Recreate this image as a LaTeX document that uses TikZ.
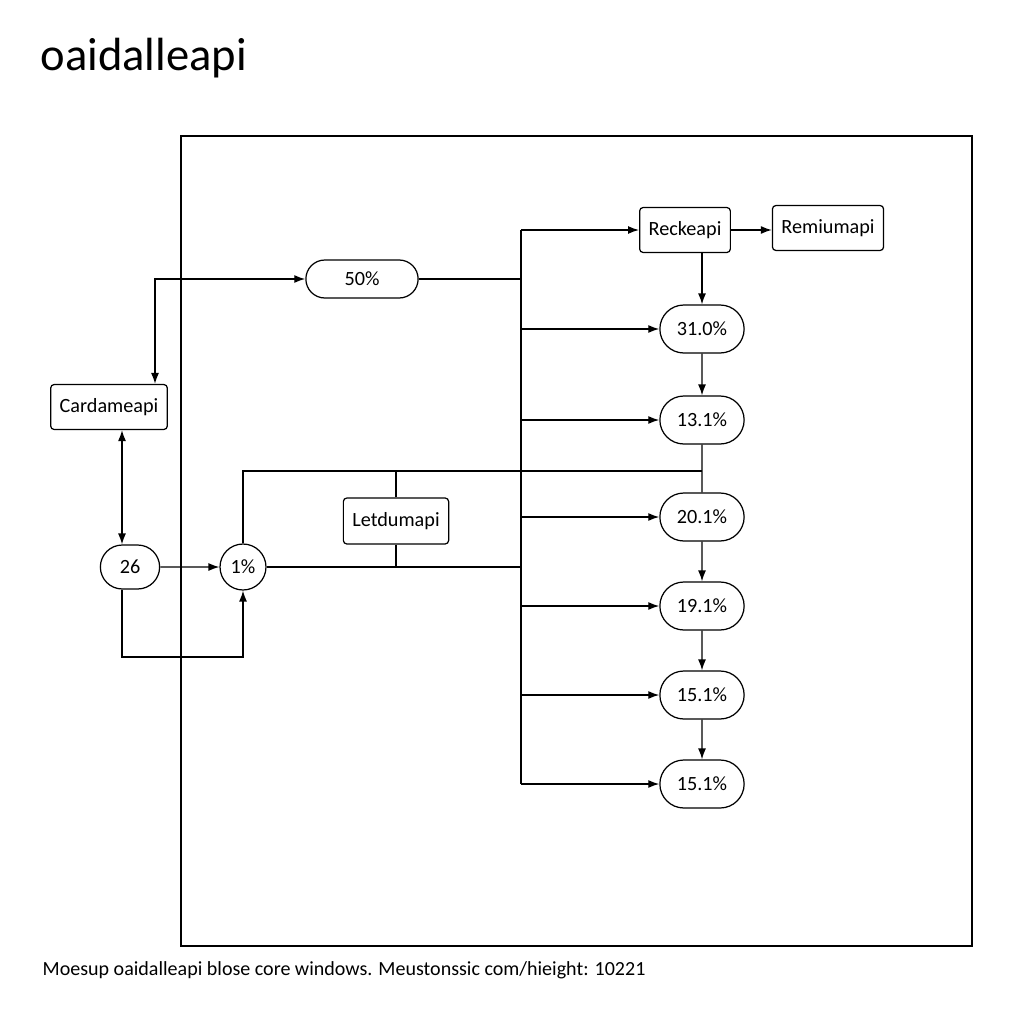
\documentclass[tikz,border=0pt]{standalone}
\usepackage{fontspec}
\setmainfont{Carlito}
\usetikzlibrary{arrows.meta,shapes.misc}

\tikzset{
  box/.style={rectangle, rounded corners=2pt, draw, line width=0.7pt, minimum height=0.9cm, inner xsep=0.18cm, font=\fontsize{11.5}{13}\selectfont},
  pill/.style={rounded rectangle, draw, line width=0.7pt, minimum width=1.92cm, minimum height=0.96cm, font=\fontsize{11.5}{13}\selectfont},
}

\begin{document}
\begin{tikzpicture}[x=0.02cm, y=-0.02cm, line width=0.75pt, >={Latex[length=2.2mm,width=1.6mm]}]
\useasboundingbox (0,0) rectangle (1024,1024);

\node[anchor=base west, inner sep=0pt, font=\fontsize{26.5}{30}\selectfont] (t1) at (40,71) {oaidalleapi};
\node[anchor=base west, inner sep=0pt, font=\fontsize{11.4}{13}\selectfont] (t2) at (42,975) {Moesup oaidalleapi blose core windows. Meustonssic com/hieight: 10221};

\draw[line width=0.65pt] (181,136) rectangle (972,946);

\node[box] (v1) at (109,407) {Cardameapi};
\node[pill, minimum width=1.42cm, minimum height=0.88cm] (v2) at (130,567) {26};
\node[circle, draw, line width=0.7pt, minimum size=0.92cm, inner sep=0pt, font=\fontsize{11.5}{13}\selectfont] (v3) at (243,567) {1\%};
\node[box, minimum height=0.92cm] (v4) at (396,521) {Letdumapi};
\node[pill, minimum width=2.48cm, minimum height=0.76cm] (v5) at (362,279) {50\%};
\node[box] (v6) at (685,230) {Reckeapi};
\node[box] (v7) at (828,228) {Remiumapi};

\node[pill] (v8) at (702,329) {31.0\%};
\node[pill] (v9) at (702,420) {13.1\%};
\node[pill] (v10) at (702,517) {20.1\%};
\node[pill] (v11) at (702,606) {19.1\%};
\node[pill] (v12) at (702,695) {15.1\%};
\node[pill] (v13) at (702,784) {15.1\%};

\coordinate (b1) at (155,279);
\coordinate (b2) at (122,430);
\coordinate (b3) at (122,657);
\coordinate (b4) at (521,230);
\coordinate (b5) at (702,471);

% left side
\draw[<->] (v1.north -| b1) |- (v5.west);
\draw[<->] (v1.south -| b2) -- (v2.north -| b2);
\draw[->] (v2) -- (v3);
\draw[->] (v2.south -| b3) -- (b3) -| (v3.south);

% middle
\draw (v5.east) -- (v5.east -| b4);
\draw (v3.east) -- (v3.east -| b4);
\draw (v3.north) |- (b5);
\draw (v4.north) -- (v4.north |- b5);
\draw (v4.south) -- (v4.south |- v3.east);

% bus
\draw (b4) -- (b4 |- v13.west);
\draw[->] (b4) -- (v6.west);
\foreach \v in {v8,v9,v10,v11,v12,v13}
  \draw[->] (b4 |- \v.west) -- (\v.west);

% right column
\draw[->] (v6.east) -- (v6.east -| v7.west);
\draw[->] (v6.south -| v8) -- (v8.north);
\draw[->] (v8) -- (v9);
\draw (v9) -- (v10);
\draw[->] (v10) -- (v11);
\draw[->] (v11) -- (v12);
\draw[->] (v12) -- (v13);

\end{tikzpicture}
\end{document}
